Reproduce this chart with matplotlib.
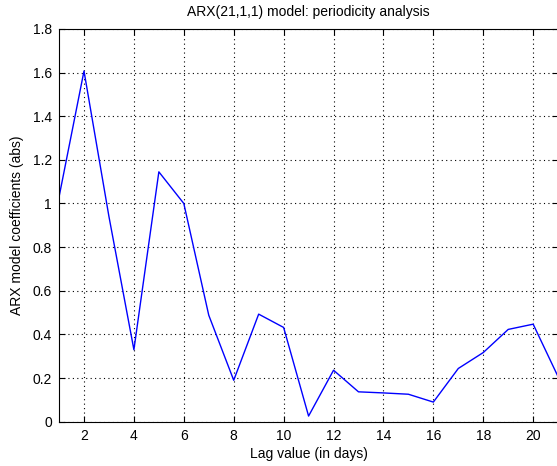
import matplotlib
matplotlib.use("Agg")
import matplotlib.pyplot as plt

lags = list(range(1, 22))
coeffs = [1.03, 1.607, 0.94, 0.33, 1.145, 1.0, 0.488, 0.19, 0.493, 0.432,
          0.026, 0.236, 0.137, 0.132, 0.126, 0.09, 0.244, 0.317, 0.423, 0.447, 0.206]
xticks = list(range(2, 22, 2))
yticks = [0, 0.2, 0.4, 0.6, 0.8, 1, 1.2, 1.4, 1.6, 1.8]
ytick_labels = ["0", "0.2", "0.4", "0.6", "0.8", "1", "1.2", "1.4", "1.6", "1.8"]

plt.rcParams['font.family'] = ['Liberation Sans', 'DejaVu Sans']
plt.rcParams['font.size'] = 10

fig = plt.figure(figsize=(5.57, 4.66), dpi=100)
ax = fig.add_axes([0.106, 0.095, 0.896, 0.843])
ax.plot(lags, coeffs, color='#0000ff', lw=1.0)
ax.set_xlim(1, 21)
ax.set_ylim(0, 1.8)
ax.set_xticks(xticks)
ax.set_yticks(yticks)
ax.set_yticklabels(ytick_labels)
ax.grid(True, color='black', linestyle=(0, (1, 3)), linewidth=0.8)
ax.tick_params(direction='in', top=True, right=True, length=4, width=0.8, labelsize=10, pad=5)
for s in ax.spines.values():
    s.set_linewidth(0.8)
ax.set_title("ARX(21,1,1) model: periodicity analysis", fontsize=10, pad=9)
ax.set_xlabel("Lag value (in days)", fontsize=10, labelpad=3)
ax.set_ylabel("ARX model coefficients (abs)", fontsize=10, labelpad=6)
fig.savefig("out.png", dpi=100)
